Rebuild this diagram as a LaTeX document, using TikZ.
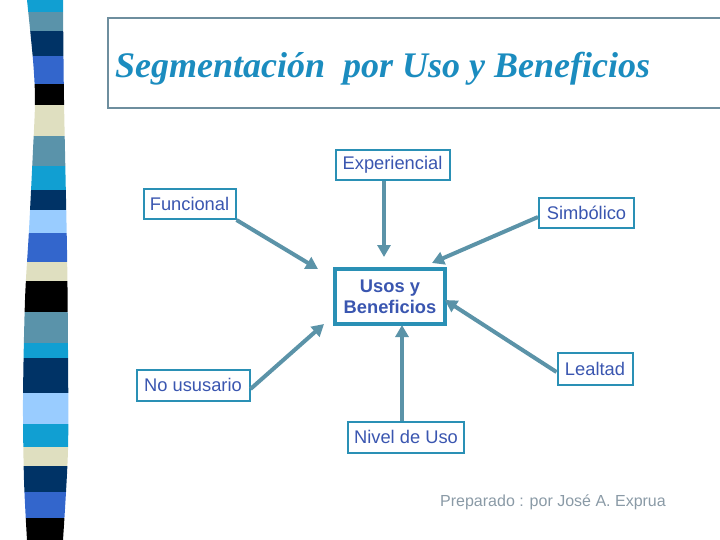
\documentclass[tikz,border=0pt]{standalone}
\usepackage{fontspec}
\usetikzlibrary{arrows.meta}
\newfontfamily\arialf{Liberation Sans}
\newfontfamily\timesf{Liberation Serif}
\definecolor{cyanS}{HTML}{119FD2}
\definecolor{steelS}{HTML}{5A93AA}
\definecolor{navyS}{HTML}{003366}
\definecolor{royalS}{HTML}{3366CC}
\definecolor{beigeS}{HTML}{DFDFC0}
\definecolor{lightS}{HTML}{99CCFF}
\definecolor{frameC}{HTML}{6E8E9E}
\definecolor{titleC}{HTML}{1B8CBF}
\definecolor{boxC}{HTML}{2A90B5}
\definecolor{textC}{HTML}{3A56B0}
\definecolor{arrowC}{HTML}{5B93A8}
\definecolor{prepC}{HTML}{8A9AA6}
\tikzset{
  labelbox/.style={draw=boxC, line width=2pt, fill=white, text=textC, inner sep=0pt,
    font=\arialf\fontsize{18.3}{21}\selectfont, align=center},
  flow/.style={draw=arrowC, line width=4pt, -{Triangle[length=12pt,width=13pt]}},
}
\begin{document}
\begin{tikzpicture}[x=1pt,y=-1pt]
\useasboundingbox (0,0) rectangle (720,540);
% striped bar
\begin{scope}
\clip plot[smooth] coordinates {(27,0) (33,60) (35,100) (33,150) (29,230) (25,300) (23,400) (24,480) (27,540)}
  -- plot[smooth] coordinates {(63,540) (68,450) (68,350) (67,250) (64,100) (63,0)} -- cycle;
\foreach \ya/\yb/\c in {0/12/cyanS, 12/31/steelS, 31/56/navyS, 56/84/royalS, 84/105/black,
  105/136/beigeS, 136/166/steelS, 166/190/cyanS, 190/210/navyS, 210/233/lightS,
  233/262/royalS, 262/281/beigeS, 281/312/black, 312/343/steelS, 343/358/cyanS,
  358/393/navyS, 393/424/lightS, 424/447/cyanS, 447/466/beigeS, 466/492/navyS,
  492/518/royalS, 518/540/black}
  \fill[\c] (0,\ya) rectangle (100,\yb);
\end{scope}
% title frame
\draw[frameC, line width=1.2pt] (721,18) -- (108,18) -- (108,108) -- (721,108);
\node[anchor=base west, inner sep=0pt, text=titleC, font=\timesf\bfseries\itshape\fontsize{36}{42}\selectfont]
  (title) at (115,78) {Segmentación\ \ por Uso y Beneficios};
% nodes
\node[labelbox, minimum width=114pt, minimum height=30pt] (exp) at (392.5,165) {Experiencial};
\node[labelbox, minimum width=92pt, minimum height=30pt] (fun) at (189.5,204) {Funcional};
\node[labelbox, minimum width=95pt, minimum height=30pt] (sim) at (586.5,213) {Simbólico};
\node[labelbox, line width=3.5pt, minimum width=110pt, minimum height=55pt, font=\arialf\bfseries\fontsize{18.3}{21}\selectfont] (usos) at (390,296.5) {Usos y\\Beneficios};
\node[labelbox, minimum width=113pt, minimum height=31pt] (nou) at (193,385) {No ususario};
\node[labelbox, minimum width=116pt, minimum height=31pt] (niv) at (406,437) {Nivel de Uso};
\node[labelbox, minimum width=75pt, minimum height=32pt] (lea) at (595,369) {Lealtad};
% arrow tips
\coordinate (tfun) at (318,269);
\coordinate (texp) at (384,257);
\coordinate (tsim) at (432,263);
\coordinate (tnou) at (324,324);
\coordinate (tniv) at (402,325);
\coordinate (tlea) at (445,300);
\draw[flow] (fun.south east) -- (tfun);
\draw[flow] (exp.south -| texp) -- (texp);
\draw[flow] ([yshift=-4pt]sim.west) -- (tsim);
\draw[flow] ([yshift=-4pt]nou.east) -- (tnou);
\draw[flow] (niv.north -| tniv) -- (tniv);
\draw[flow] ([yshift=-3pt]lea.west) -- (tlea);
% footer
\node[anchor=base west, inner sep=0pt, text=prepC, font=\arialf\fontsize{16}{19}\selectfont]
  (prep) at (440,506) {Preparado : por José A. Exprua};
\end{tikzpicture}
\end{document}
